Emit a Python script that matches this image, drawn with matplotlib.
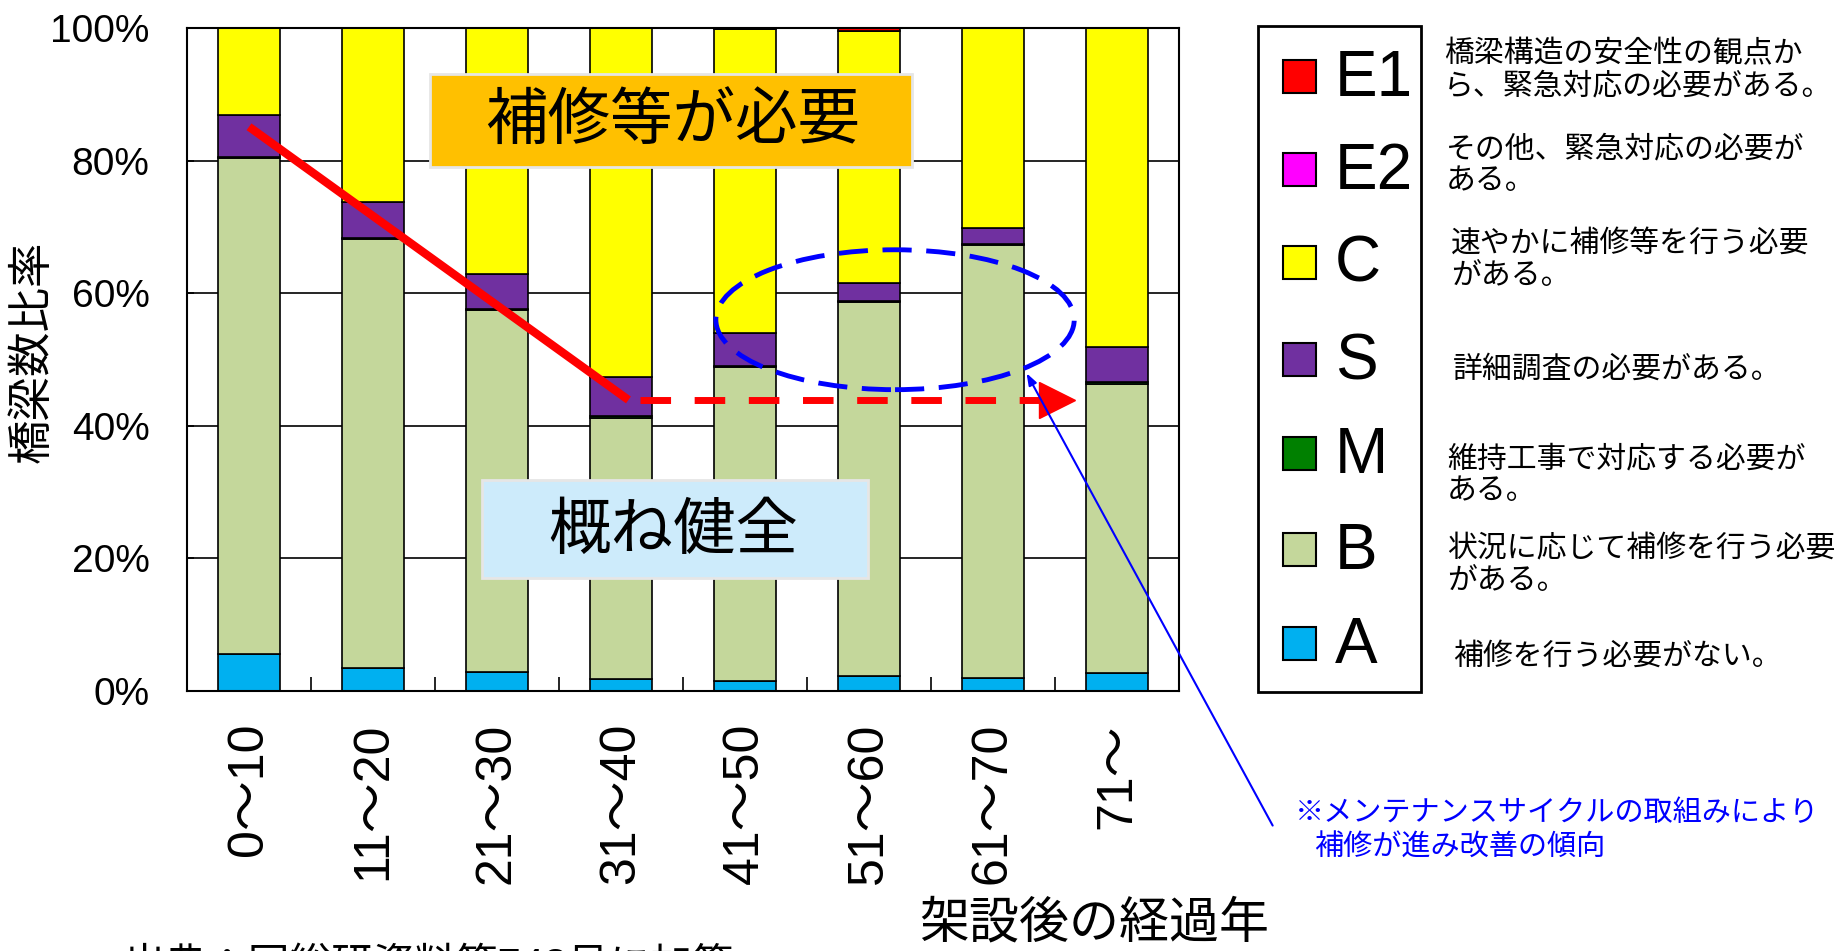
import numpy as np
import matplotlib.pyplot as plt
from matplotlib.patches import Rectangle, Ellipse
from matplotlib import font_manager

plt.rcParams['font.family'] = ['Liberation Sans', 'Noto Sans CJK JP']

# データ（各区分の比率 %）
cats = ['0～10', '11～20', '21～30', '31～40', '41～50', '51～60', '61～70', '71～']
A = [5.6, 3.5, 2.9, 1.8, 1.5, 2.3, 2.0, 2.7]
B = [74.8, 64.6, 54.5, 39.4, 47.4, 56.4, 65.3, 43.6]
M = [0.2, 0.3, 0.2, 0.3, 0.1, 0.1, 0.1, 0.3]
S = [6.3, 5.3, 5.3, 5.9, 5.0, 2.7, 2.4, 5.3]
C = [13.1, 26.3, 37.1, 52.6, 45.9, 38.1, 30.2, 48.1]
E2 = [0, 0, 0, 0, 0, 0, 0, 0]
E1 = [0, 0, 0, 0, 0.1, 0.4, 0, 0]

grades = ['A', 'B', 'M', 'S', 'C', 'E2', 'E1']
series = [A, B, M, S, C, E2, E1]
colors = ['#00B0F0', '#C4D79B', '#008000', '#7030A0', '#FFFF00', '#FF00FF', '#FF0000']
descr = {
    'E1': '橋梁構造の安全性の観点か\nら、緊急対応の必要がある。',
    'E2': 'その他、緊急対応の必要が\nある。',
    'C': '速やかに補修等を行う必要\nがある。',
    'S': '詳細調査の必要がある。',
    'M': '維持工事で対応する必要が\nある。',
    'B': '状況に応じて補修を行う必要\nがある。',
    'A': '補修を行う必要がない。',
}

W, H = 1839, 951
def fx(x): return x / W
def fy(y): return 1 - y / H

fig = plt.figure(figsize=(W / 100, H / 100), dpi=100)
ax = fig.add_axes([fx(187), fy(691), (1179 - 187) / W, (691 - 28) / H])

x = np.arange(len(cats))
bottom = np.zeros(len(cats))
for vals, col in zip(series, colors):
    ax.bar(x, vals, 0.5, bottom=bottom, color=col, edgecolor='black', linewidth=1.2, zorder=2)
    bottom += np.array(vals)

ax.set_xlim(-0.5, len(cats) - 0.5)
ax.set_ylim(0, 100)
ax.set_yticks(range(0, 101, 20))
ax.set_yticklabels([f'{v}%' for v in range(0, 101, 20)], fontsize=28)
ax.set_xticks(x)
ax.set_xticklabels(cats, rotation=90, fontsize=36)
ax.set_xticks(np.arange(0.5, len(cats) - 1, 1), minor=True)
ax.tick_params(axis='x', which='major', length=0, pad=23)
ax.tick_params(axis='x', which='minor', direction='in', length=10, width=1.2)
ax.tick_params(axis='y', direction='in', length=5, width=1.2, pad=27)
ax.yaxis.grid(True, color='black', linewidth=1.2)
ax.set_axisbelow(True)
for sp in ax.spines.values():
    sp.set_linewidth(1.5)

# 赤い矢印（傾向線）
ax.plot([0, 3.06], [85.1, 43.9], color='red', lw=6, solid_capstyle='butt', zorder=4)
ax.plot([3.15, 6.38], [43.9, 43.9], color='red', lw=5, dashes=(4.4, 3.4), zorder=4)
ax.plot(6.52, 43.9, marker='>', ms=26, color='red', mec='red', zorder=4, clip_on=False)

# 青い破線の楕円
ax.add_patch(Ellipse((5.21, 56.0), 2.89, 21.1, fill=False, ec='blue', lw=3.5,
                     ls=(0, (6, 3)), zorder=5, clip_on=False))
ax.annotate('', xy=(6.26, 48.3), xytext=(fx(1274), fy(828)), textcoords='figure fraction',
            arrowprops=dict(arrowstyle='-|>,head_length=0.7,head_width=0.25', color='blue', lw=1.5),
            annotation_clip=False, zorder=6)

# 注記ボックス
fig.patches.append(Rectangle((fx(430), fy(167)), (912 - 430) / W, (167 - 74) / H,
                             transform=fig.transFigure, fc='#FFC000', ec='#E6E6E6', lw=2))
fig.text(fx(673), fy(122), '補修等が必要', fontsize=45, ha='center', va='center')
fig.patches.append(Rectangle((fx(482), fy(578)), (868 - 482) / W, (578 - 480) / H,
                             transform=fig.transFigure, fc='#CDEBFB', ec='#E6E6E6', lw=2))
fig.text(fx(673), fy(532), '概ね健全', fontsize=45, ha='center', va='center')

# 軸ラベル
fig.text(fx(33), fy(352), '橋梁数比率', fontsize=32, rotation=90, ha='center', va='center')
fig.text(fx(1094), fy(924), '架設後の経過年', fontsize=36, ha='center', va='center')
fig.text(fx(123), fy(947), '出典：国総研資料第748号に加筆', fontsize=30, ha='left', va='top')

# 凡例
names = {f.name for f in font_manager.fontManager.ttflist}
lab_font = ['Liberation Sans Narrow'] if 'Liberation Sans Narrow' in names else ['Liberation Sans']
fig.patches.append(Rectangle((fx(1258), fy(692)), (1421 - 1258) / W, (692 - 26) / H,
                             transform=fig.transFigure, fc='white', ec='black', lw=2))
leg_y = {'E1': 77, 'E2': 170, 'C': 263, 'S': 360, 'M': 454, 'B': 550, 'A': 644}
desc_pos = {'E1': (1444, 70), 'E2': (1446, 165), 'C': (1451, 260), 'S': (1453, 370),
            'M': (1447, 475), 'B': (1447, 565), 'A': (1453, 657)}
for g, col in zip(grades, colors):
    yc = leg_y[g]
    fig.patches.append(Rectangle((fx(1283), fy(yc + 16)), 33 / W, 33 / H,
                                 transform=fig.transFigure, fc=col, ec='black', lw=1.5))
    fig.text(fx(1335), fy(yc + 2), g, fontsize=46, family=lab_font, ha='left', va='center')
    dx, dy = desc_pos[g]
    fig.text(fx(dx), fy(dy), descr[g], fontsize=21.5, ha='left', va='center', linespacing=1.18)

fig.text(fx(1295), fy(813), '※メンテナンスサイクルの取組みにより', fontsize=21, color='blue',
         ha='left', va='center')
fig.text(fx(1314), fy(848), '補修が進み改善の傾向', fontsize=21, color='blue', ha='left', va='center')

fig.savefig('out.png', dpi=100)
